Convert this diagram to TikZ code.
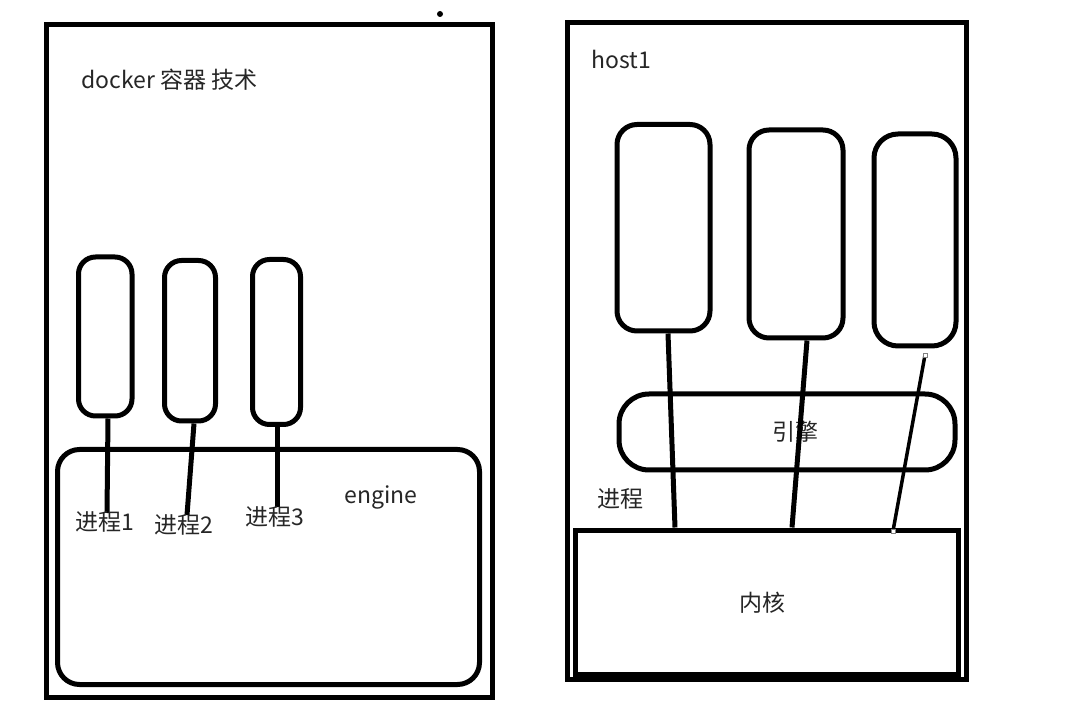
\documentclass[tikz,border=0pt]{standalone}
\usepackage{fontspec}
\newfontfamily\cjk{Noto Sans CJK SC}
\begin{document}
\begin{tikzpicture}[x=1pt,y=-1pt,
  frame/.style={draw, line width=5pt, inner sep=0pt, sharp corners},
  pill/.style={draw, line width=5pt, inner sep=0pt, rounded corners=#1},
  lbl/.style={font=\cjk\fontsize{23}{27}\selectfont, text=black!85, inner sep=0pt},
  wire/.style={line width=5pt},
  thinwire/.style={line width=3.5pt},
  handle/.style={draw=gray, fill=white, line width=0.6pt, minimum size=4pt, inner sep=0pt}]
\useasboundingbox (0,0) rectangle (1080,711);
\fill[white] (0,0) rectangle (1080,711);

% stray dot
\fill (440,14) circle (3pt);

% ---------- left: docker ----------
\node[frame, minimum width=446pt, minimum height=672.5pt] (docker) at (269.5,360.75) {};
\node[lbl, anchor=west] (dockertitle) at (81,80) {docker 容器 技术};

\node[pill=17pt, minimum width=53.5pt, minimum height=159pt] (p1) at (105.25,336.5) {};
\node[pill=17pt, minimum width=51pt, minimum height=160.5pt] (p2) at (190,340.75) {};
\node[pill=17pt, minimum width=48pt, minimum height=165pt] (p3) at (276.5,342) {};

\node[pill=22pt, minimum width=422pt, minimum height=235pt] (engine) at (268.5,567) {};
\node[lbl] (enginelbl) at (381,497) {engine};

\coordinate (t1) at (107,513);
\coordinate (t2) at (187,515);
\coordinate (t3) at (277,507);
\draw[wire] ([xshift=2.75pt]p1.south) -- (t1);
\draw[wire] ([xshift=4pt]p2.south) -- (t2);
\draw[wire] ([xshift=0.5pt]p3.south) -- (t3);

\node[lbl] (l1) at (105,522) {进程1};
\node[lbl] (l2) at (184,525) {进程2};
\node[lbl] (l3) at (275,517) {进程3};

% ---------- right: host1 ----------
\node[frame, minimum width=399pt, minimum height=656.5pt] (host) at (767,350.75) {};
\node[lbl] (hostlbl) at (621.5,59) {host1};

\node[pill=20pt, minimum width=93pt, minimum height=206.5pt] (A) at (663.5,227.75) {};
\node[pill=20pt, minimum width=94pt, minimum height=208pt] (B) at (796,234) {};
\node[pill=24pt, minimum width=82pt, minimum height=212pt] (C) at (915,240) {};

\node[pill=30pt, minimum width=336pt, minimum height=76pt] (yq) at (787,432) {};
\node[lbl] (yqlbl) at (795,432) {引擎};

\node[lbl] (jc) at (620,499) {进程};

\node[frame, minimum width=383pt, minimum height=144pt] (kernel) at (766.5,602) {};
\node[lbl] (kernellbl) at (762,603) {内核};

\draw[wire] ([xshift=4.5pt]A.south) -- ([xshift=-91.5pt]kernel.north);
\draw[wire] ([xshift=11pt]B.south) -- ([xshift=25.5pt]kernel.north);
\coordinate (cs) at (925,355);
\coordinate (ce) at (893,531);
\draw[thinwire] (cs) -- (ce);
\node[handle] (h1) at (cs) {};
\node[handle] (h2) at (ce) {};
\end{tikzpicture}
\end{document}
